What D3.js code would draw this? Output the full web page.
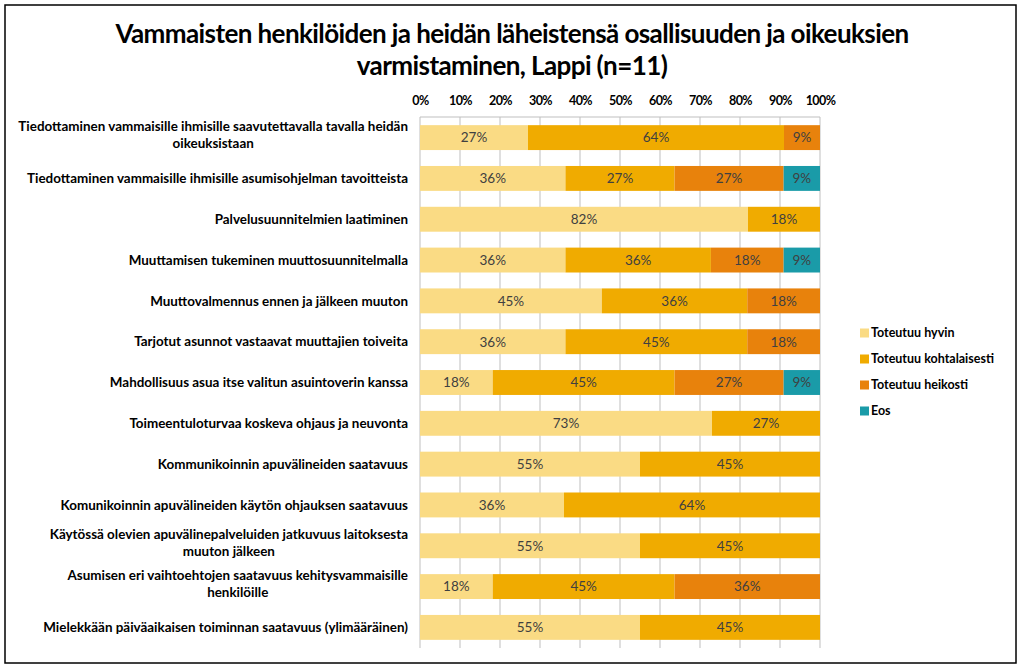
<!DOCTYPE html>
<html><head><meta charset="utf-8">
<script src="https://cdn.jsdelivr.net/npm/d3@7/dist/d3.min.js"></script>
<style>body{margin:0;background:#fff}svg{display:block}text{font-family:Lato,"Open Sans",sans-serif}</style>
</head><body>
<svg id="c" width="1023" height="670"></svg>
<script>
const titleLines = ["Vammaisten henkilöiden ja heidän läheistensä osallisuuden ja oikeuksien", "varmistaminen, Lappi (n=11)"];
const categories = [
  ["Tiedottaminen vammaisille ihmisille saavutettavalla tavalla heidän", "oikeuksistaan"],
  ["Tiedottaminen vammaisille ihmisille asumisohjelman tavoitteista"],
  ["Palvelusuunnitelmien laatiminen"],
  ["Muuttamisen tukeminen muuttosuunnitelmalla"],
  ["Muuttovalmennus ennen ja jälkeen muuton"],
  ["Tarjotut asunnot vastaavat muuttajien toiveita"],
  ["Mahdollisuus asua itse valitun asuintoverin kanssa"],
  ["Toimeentuloturvaa koskeva ohjaus ja neuvonta"],
  ["Kommunikoinnin apuvälineiden saatavuus"],
  ["Komunikoinnin apuvälineiden käytön ohjauksen saatavuus"],
  ["Käytössä olevien apuvälinepalveluiden jatkuvuus laitoksesta", "muuton jälkeen"],
  ["Asumisen eri vaihtoehtojen saatavuus kehitysvammaisille", "henkilöille"],
  ["Mielekkään päiväaikaisen toiminnan saatavuus (ylimääräinen)"]
];
const seriesNames = ["Toteutuu hyvin", "Toteutuu kohtalaisesti", "Toteutuu heikosti", "Eos"];
const hyvin =        [27, 36, 82, 36, 45, 36, 18, 73, 55, 36, 55, 18, 55];
const kohtalaisesti = [64, 27, 18, 36, 36, 45, 45, 27, 45, 64, 45, 45, 45];
const heikosti =     [9, 27, 0, 18, 18, 18, 27, 0, 0, 0, 0, 36, 0];
const eos =          [0, 9, 0, 9, 0, 0, 9, 0, 0, 0, 0, 0, 0];
const tickLabels = ["0%","10%","20%","30%","40%","50%","60%","70%","80%","90%","100%"];
const colors = ["#FADB84", "#F0AB00", "#E8820C", "#1A9BA8"];

const svg = d3.select("#c");
svg.append("rect").attr("x",5).attr("y",5).attr("width",1011).attr("height",658)
  .attr("fill","#fff").attr("stroke","#000").attr("stroke-width",1.5);

function fitFont(sel, targetW, base){
  sel.attr("font-size", base);
  const w = sel.node().getComputedTextLength();
  const fs = base * targetW / w;
  sel.attr("font-size", fs);
  return fs;
}

// title
const t1 = svg.append("text").attr("x",512).attr("y",43).attr("text-anchor","middle")
  .attr("font-weight","bold").attr("letter-spacing",-0.6).text(titleLines[0]);
const tfs = fitFont(t1, 790, 24);
svg.append("text").attr("x",512).attr("y",75).attr("text-anchor","middle")
  .attr("font-weight","bold").attr("letter-spacing",-0.6).attr("font-size",tfs).text(titleLines[1]);

const keys = ["h","k","e","o"];
const rows = categories.map((c,i)=>({cat:i, h:hyvin[i], k:kohtalaisesti[i], e:heikosti[i], o:eos[i]}));
const stacked = d3.stack().keys(keys).offset(d3.stackOffsetExpand)(rows);

const x = d3.scaleLinear().domain([0,1]).range([420,820]);
const y = d3.scaleBand().domain(d3.range(categories.length)).range([117,648]).paddingInner(0.39).paddingOuter(0.2);

// gridlines
const g = svg.append("g");
g.selectAll("line.grid").data(d3.range(0,1.0001,0.1)).join("line")
  .attr("x1",d=>x(d)).attr("x2",d=>x(d)).attr("y1",117).attr("y2",648)
  .attr("stroke","#BFBFBF").attr("stroke-width",1);
g.append("line").attr("x1",420).attr("x2",820).attr("y1",117).attr("y2",117).attr("stroke","#BFBFBF");

// axis top
const axis = d3.axisTop(x).tickValues(d3.range(0,1.0001,0.1)).tickFormat((d,i)=>tickLabels[i]).tickSize(0).tickPadding(0);
const ax = svg.append("g").attr("transform","translate(0,105)").call(axis);
ax.select(".domain").remove();
ax.selectAll("text").attr("font-size",12.5).attr("font-weight","bold").attr("fill","#000")
  .attr("font-family","Lato, sans-serif").attr("letter-spacing",-0.6);

// bars
const layer = svg.append("g").selectAll("g").data(stacked).join("g").attr("fill",(d,i)=>colors[i]);
layer.selectAll("rect").data(d=>d).join("rect")
  .attr("x",d=>x(d[0])).attr("width",d=>x(d[1])-x(d[0]))
  .attr("y",d=>y(d.data.cat)).attr("height",y.bandwidth());

// value labels
const lab = svg.append("g");
stacked.forEach((s,si)=>{
  s.forEach(d=>{
    const v = d.data[keys[si]];
    if(!v) return;
    lab.append("text").attr("x",(x(d[0])+x(d[1]))/2).attr("y",y(d.data.cat)+y.bandwidth()/2)
      .attr("dy","0.36em").attr("text-anchor","middle").attr("font-size",13.5)
      .attr("fill","#404040").text(v+"%");
  });
});

// category labels
const cg = svg.append("g");
const probe = cg.append("text").attr("font-weight","bold").text(categories[0][0]);
const cfs = fitFont(probe, 390, 13);
probe.remove();
categories.forEach((lines,i)=>{
  const cy = y(i)+y.bandwidth()/2;
  const lh = cfs*1.25;
  const texts = lines.map((l,j)=>cg.append("text").attr("font-weight","bold").attr("font-size",cfs)
      .attr("fill","#000").text(l));
  const maxW = d3.max(texts, t=>t.node().getComputedTextLength());
  const cx = 408 - maxW/2;
  const y0 = cy - (lines.length-1)*lh/2 - (lines.length>1?3:0);
  texts.forEach((t,j)=>t.attr("x",cx).attr("y",y0+j*lh).attr("dy","0.35em").attr("text-anchor","middle"));
});

// legend
const lg = svg.append("g");
seriesNames.forEach((n,i)=>{
  const ly = 333 + i*26;
  lg.append("rect").attr("x",860).attr("y",ly-4.5).attr("width",9).attr("height",9).attr("fill",colors[i]);
  lg.append("text").attr("x",871).attr("y",ly).attr("dy","0.35em").attr("font-size",12.5)
    .attr("font-weight","bold").attr("fill","#000").text(n);
});
</script>
</body></html>
